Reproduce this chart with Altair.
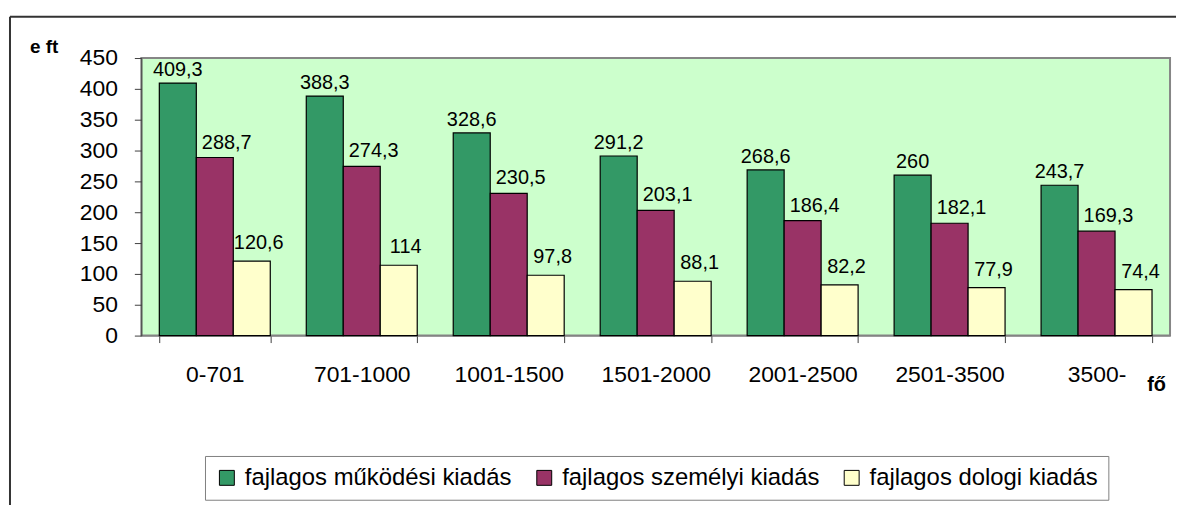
import altair as alt
import pandas as pd

categories = ["0-701", "701-1000", "1001-1500", "1501-2000", "2001-2500", "2501-3500", "3500-"]
series = ["fajlagos működési kiadás", "fajlagos személyi kiadás", "fajlagos dologi kiadás"]
mukodesi = [409.3, 388.3, 328.6, 291.2, 268.6, 260, 243.7]
szemelyi = [288.7, 274.3, 230.5, 203.1, 186.4, 182.1, 169.3]
dologi = [120.6, 114, 97.8, 88.1, 82.2, 77.9, 74.4]
colors = ["#339966", "#993366", "#FFFFCC"]
y_ticks = [0, 50, 100, 150, 200, 250, 300, 350, 400, 450]
y_unit = ["e ft"]
x_unit = ["fő"]

FONT = "Liberation Sans"

rows = []
for s, vals in zip(series, [mukodesi, szemelyi, dologi]):
    for c, v in zip(categories, vals):
        rows.append({"kat": c, "sor": s, "ertek": v,
                     "cimke": f"{v:g}".replace(".", ",")})
df = pd.DataFrame(rows)

x_enc = alt.X("kat:N", sort=categories,
              scale=alt.Scale(paddingInner=0.245, paddingOuter=0.1225),
              axis=alt.Axis(title=None, labelAngle=0, tickBand="extent", tickSize=7,
                            labelPadding=21, labelFontSize=23, labelFont=FONT,
                            labelColor="black", domainColor="#808080",
                            tickColor="#404040", grid=False))
y_enc = alt.Y("ertek:Q", scale=alt.Scale(domain=[0, 450], nice=False),
              axis=alt.Axis(title=None, values=y_ticks, tickSize=7, labelPadding=17,
                            labelFontSize=23, labelFont=FONT, labelColor="black",
                            grid=False, domainColor="#404040", tickColor="#404040"))
xo_enc = alt.XOffset("sor:N", sort=series,
                     scale=alt.Scale(domain=series, paddingInner=0, paddingOuter=0))

bars = alt.Chart(df).mark_bar(stroke="black", strokeWidth=1.2).encode(
    x=x_enc, y=y_enc, xOffset=xo_enc,
    color=alt.Color("sor:N", sort=series,
                    scale=alt.Scale(domain=series, range=colors),
                    legend=alt.Legend(title=None, orient="none", legendX=64, legendY=400,
                                      direction="horizontal", columns=3,
                                      symbolType="square", symbolSize=225,
                                      symbolStrokeColor="black", symbolStrokeWidth=1,
                                      symbolOpacity=1,
                                      labelFontSize=24, labelFont=FONT, labelColor="black",
                                      labelLimit=500, labelOffset=6, columnPadding=20,
                                      padding=10, strokeColor="#808080",
                                      fillColor="white")),
)

offsets = [(0, -7), (12, -9), (7, -12)]
texts = []
for s, (dx, dy) in zip(series, offsets):
    texts.append(
        alt.Chart(df).transform_filter(alt.datum.sor == s).mark_text(
            dx=dx, dy=dy, baseline="alphabetic", align="center",
            fontSize=20, font=FONT, color="black"
        ).encode(x=x_enc, y=y_enc, xOffset=xo_enc, text="cimke:N")
    )

unit_y = alt.Chart(pd.DataFrame({"t": y_unit})).mark_text(
    align="left", baseline="alphabetic", fontSize=19, fontWeight="bold",
    font=FONT, color="black"
).encode(x=alt.value(-112), y=alt.value(-5), text="t:N")

unit_x = alt.Chart(pd.DataFrame({"t": x_unit})).mark_text(
    align="left", baseline="alphabetic", fontSize=20, fontWeight="bold",
    font=FONT, color="black"
).encode(x=alt.value(1011), y=alt.value(335), text="t:N")

one = pd.DataFrame({"a": [0]})
border_top = alt.Chart(one).mark_rule(color="#333333", strokeWidth=2).encode(
    x=alt.value(-132), x2=alt.value(1060), y=alt.value(-41.5))
border_left = alt.Chart(one).mark_rule(color="#333333", strokeWidth=2).encode(
    x=alt.value(-132), y=alt.value(-41.5), y2=alt.value(460))

chart = alt.layer(bars, *texts, unit_y, unit_x, border_top, border_left).properties(
    width=1034, height=279,
    autosize=alt.AutoSizeParams(type="none"),
    padding={"left": 134, "top": 49, "right": 6, "bottom": 169},
).configure_view(fill="#CCFFCC", stroke="#868686", strokeWidth=2)

chart.save("out.html", embed_options={"renderer": "svg", "actions": False})
